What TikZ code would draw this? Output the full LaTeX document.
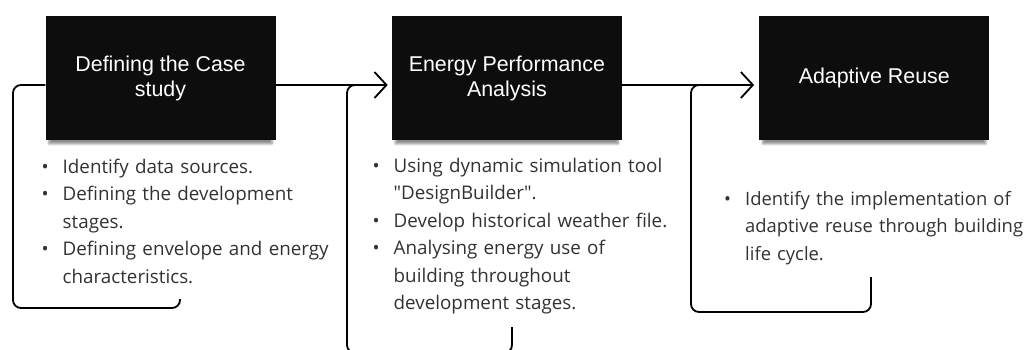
\documentclass[tikz,border=0pt]{standalone}
\usepackage{fontspec}
\setmainfont{Open Sans}
\newfontfamily\stagefont{Liberation Sans}
\usetikzlibrary{positioning,arrows.meta,shadows.blur}
\definecolor{bodytext}{RGB}{50,50,50}
\newcommand{\bitem}{\makebox[21pt][l]{\textbullet}}
\newcommand{\bcont}{\hspace*{21pt}}

\begin{document}
\begin{tikzpicture}[
    x=1pt, y=-1pt,
    stage/.style={%
      rectangle,
      fill=black!95,
      minimum width=230pt,
      minimum height=124pt,
      inner sep=0pt,
      align=center,
      text=white,
      font=\stagefont\fontsize{21.4}{25}\selectfont,
      blur shadow={shadow xshift=0pt, shadow yshift=-6pt,
        shadow scale=0.97, shadow opacity=45, shadow blur steps=8},
    },
    notes/.style={%
      anchor=base west,
      inner sep=0pt,
      text width=420pt,
      align=left,
      text=bodytext,
      font=\fontsize{18.8}{27.5}\selectfont,
    },
    flow/.style={%
      line width=1.8pt,
      -{Straight Barb[length=12pt,width=26pt]},
    },
    bracket/.style={%
      line width=1.8pt,
      rounded corners=8pt,
    },
  ]
    \useasboundingbox (0,0) rectangle (1024,349);
    \clip (0,0) rectangle (1024,349);

    % the three stages
    \node [stage] (A) at (160.5,78) {Defining the Case\\study};
    \node [stage, right=116pt of A] (B) {Energy Performance\\Analysis};
    \node [stage, right=137pt of B] (C) {Adaptive Reuse};

    \draw [flow, shorten >=4pt] ([yshift=-7pt]A.east) -- ([yshift=-7pt]B.west);
    \draw [flow, shorten >=5pt] ([yshift=-7pt]B.east) -- ([yshift=-7pt]C.west);

    % brackets round the notes
    \coordinate (bendA) at (13,308);
    \coordinate (tailA) at (180,299);
    \coordinate (headB) at (366,85);
    \coordinate (bendB) at (347,353);
    \coordinate (tailB) at (512,327);
    \coordinate (headC) at (712,85);
    \coordinate (bendC) at (691,312);
    \coordinate (tailC) at (871,277);

    \draw [bracket] ([yshift=-7pt]A.west) -| (bendA) -| (tailA);
    \draw [bracket] (headB) -| (bendB) -| (tailB);
    \draw [bracket] (headC) -| (bendC) -| (tailC);

    % notes under each stage
    \node [notes] (notesA) at (41.5,173) {\bitem Identify data sources.\\
      \bitem Defining the development\\ \bcont stages.\\
      \bitem Defining envelope and energy\\ \bcont characteristics.};
    \node [notes] (notesB) at (372.5,172) {\bitem Using dynamic simulation tool\\
      \bcont \textquotedbl DesignBuilder\textquotedbl.\\
      \bitem Develop historical weather file.\\
      \bitem Analysing energy use of\\ \bcont building throughout\\
      \bcont development stages.};
    \node [notes, font=\fontsize{18.4}{27.5}\selectfont] (notesC) at (724,205)
      {\bitem Identify the implementation of\\
      \bcont adaptive reuse through building\\ \bcont life cycle.};
\end{tikzpicture}
\end{document}
